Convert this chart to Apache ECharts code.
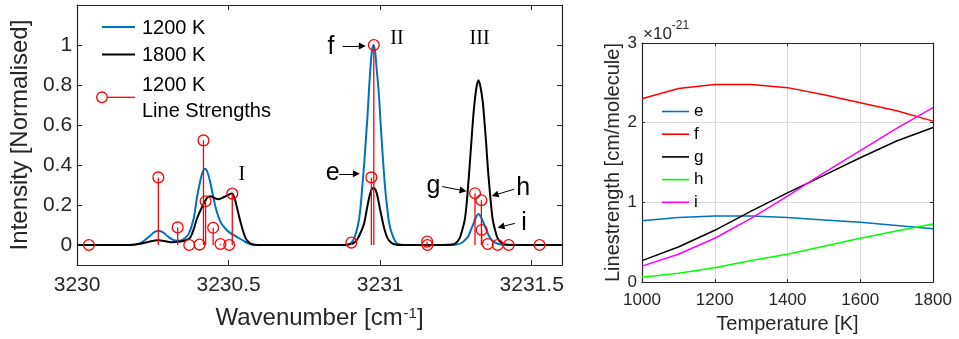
<!DOCTYPE html>
<html>
<head>
<meta charset="utf-8">
<script src="https://cdn.jsdelivr.net/npm/echarts@6/dist/echarts.min.js"></script>
<style>
  html, body { margin: 0; padding: 0; background: #ffffff; }
  #chart { width: 959px; height: 339px; }
</style>
</head>
<body>
<div id="chart"></div>
<script>
// ---- Spectra (normalised intensity vs wavenumber, cm^-1) ----
const spectrum1200 = [
  [3230.000, 0], [3230.150, 0], [3230.190, 0.003], [3230.215, 0.015], [3230.240, 0.045],
  [3230.255, 0.064], [3230.269, 0.071], [3230.285, 0.062], [3230.300, 0.042], [3230.315, 0.027],
  [3230.330, 0.021], [3230.345, 0.024], [3230.358, 0.038], [3230.369, 0.058], [3230.378, 0.095],
  [3230.386, 0.141], [3230.396, 0.242], [3230.405, 0.310], [3230.413, 0.360], [3230.4216, 0.381],
  [3230.430, 0.365], [3230.440, 0.309], [3230.4565, 0.191], [3230.473, 0.116], [3230.494, 0.074],
  [3230.510, 0.056], [3230.527, 0.041], [3230.555, 0.016], [3230.570, 0.005], [3230.590, 0],
  [3230.880, 0], [3230.895, 0.004], [3230.905, 0.012], [3230.914, 0.033], [3230.922, 0.070],
  [3230.930, 0.125], [3230.936, 0.200], [3230.941, 0.292], [3230.947, 0.400], [3230.952, 0.510],
  [3230.958, 0.640], [3230.963, 0.770], [3230.968, 0.890], [3230.973, 0.970], [3230.978, 1.000],
  [3230.983, 0.970], [3230.988, 0.890], [3230.996, 0.750], [3231.001, 0.620], [3231.0065, 0.490],
  [3231.012, 0.370], [3231.017, 0.275], [3231.023, 0.190], [3231.028, 0.125], [3231.036, 0.070],
  [3231.045, 0.033], [3231.053, 0.012], [3231.061, 0.004], [3231.075, 0],
  [3231.240, 0], [3231.255, 0.003], [3231.268, 0.010], [3231.280, 0.025], [3231.290, 0.041],
  [3231.298, 0.070], [3231.306, 0.099], [3231.315, 0.135], [3231.3245, 0.155], [3231.334, 0.135],
  [3231.344, 0.099], [3231.352, 0.070], [3231.3605, 0.041], [3231.370, 0.022], [3231.382, 0.010],
  [3231.395, 0.003], [3231.410, 0], [3231.600, 0]
];

const spectrum1800 = [
  [3230.000, 0], [3230.170, 0], [3230.210, 0.006], [3230.240, 0.018], [3230.269, 0.024],
  [3230.295, 0.018], [3230.315, 0.014], [3230.335, 0.016], [3230.355, 0.022], [3230.372, 0.035],
  [3230.385, 0.080], [3230.395, 0.130], [3230.4127, 0.191], [3230.430, 0.238], [3230.440, 0.244],
  [3230.453, 0.235], [3230.467, 0.229], [3230.485, 0.240], [3230.500, 0.252], [3230.511, 0.258],
  [3230.520, 0.232], [3230.527, 0.191], [3230.535, 0.140], [3230.5435, 0.091], [3230.552, 0.050],
  [3230.560, 0.024], [3230.575, 0.005], [3230.600, 0],
  [3230.880, 0], [3230.900, 0.003], [3230.914, 0.012], [3230.925, 0.030], [3230.935, 0.060],
  [3230.947, 0.108], [3230.9575, 0.191], [3230.965, 0.245], [3230.971, 0.275], [3230.978, 0.286],
  [3230.985, 0.275], [3230.991, 0.245], [3230.998, 0.191], [3231.005, 0.140], [3231.012, 0.091],
  [3231.020, 0.050], [3231.028, 0.025], [3231.040, 0.008], [3231.055, 0.001], [3231.070, 0],
  [3231.200, 0], [3231.235, 0.002], [3231.250, 0.010], [3231.262, 0.033], [3231.270, 0.070],
  [3231.279, 0.125], [3231.285, 0.200], [3231.290, 0.292], [3231.295, 0.390], [3231.3007, 0.510],
  [3231.306, 0.620], [3231.3114, 0.711], [3231.318, 0.790], [3231.3245, 0.824], [3231.331, 0.790],
  [3231.3389, 0.711], [3231.344, 0.620], [3231.3497, 0.510], [3231.355, 0.390], [3231.3605, 0.292],
  [3231.366, 0.200], [3231.3716, 0.125], [3231.380, 0.070], [3231.388, 0.033], [3231.400, 0.010],
  [3231.415, 0.002], [3231.450, 0], [3231.600, 0]
];

// ---- Individual line positions and 1200 K line strengths (normalised) ----
const lineWavenumbers = [
  3230.039, 3230.268, 3230.332, 3230.370, 3230.404, 3230.417, 3230.424, 3230.449,
  3230.473, 3230.502, 3230.512, 3230.905, 3230.971, 3230.979, 3231.155, 3231.156,
  3231.313, 3231.334, 3231.335, 3231.355, 3231.388, 3231.424, 3231.526
];
const lineStrengths1200 = [
  0, 0.338, 0.088, 0, 0.002, 0.523, 0.219, 0.086,
  0.005, 0, 0.257, 0.012, 0.338, 1.0, 0.017, 0,
  0.259, 0.224, 0.075, 0.005, 0, 0, 0
];

// ---- Linestrength vs temperature (units of 1e-21 cm/molecule) ----
const temperatures = [1000, 1100, 1200, 1300, 1400, 1500, 1600, 1700, 1800];
const strengthE = [0.77, 0.81, 0.83, 0.83, 0.81, 0.78, 0.75, 0.71, 0.67];
const strengthF = [2.30, 2.43, 2.48, 2.48, 2.44, 2.35, 2.25, 2.15, 2.02];
const strengthG = [0.27, 0.44, 0.65, 0.89, 1.12, 1.34, 1.56, 1.77, 1.94];
const strengthH = [0.06, 0.11, 0.18, 0.27, 0.35, 0.45, 0.55, 0.64, 0.73];
const strengthI = [0.20, 0.35, 0.55, 0.80, 1.08, 1.37, 1.65, 1.93, 2.19];

// ---- Tick positions ----
const wavenumberTicks = [3230, 3230.5, 3231, 3231.5];
const intensityTicks = [0, 0.2, 0.4, 0.6, 0.8, 1];
const temperatureTicks = [1000, 1200, 1400, 1600, 1800];
const linestrengthTicks = [0, 1, 2, 3];

// ---- Peak labels and arrows (data coordinates of the spectrum panel) ----
const groupLabels = [
  { text: 'I', x: 3230.5435, y: 0.35 },
  { text: 'II', x: 3231.0556, y: 1.03 },
  { text: 'III', x: 3231.328, y: 1.03 }
];
const lineLabels = [
  { text: 'f', x: 3230.8376, y: 0.987 },
  { text: 'e', x: 3230.843, y: 0.359 },
  { text: 'g', x: 3231.1755, y: 0.292 },
  { text: 'h', x: 3231.4716, y: 0.284 },
  { text: 'i', x: 3231.475, y: 0.108 }
];
const lineArrows = [
  [[3230.8758, 0.995], [3230.9412, 0.995]],
  [[3230.865, 0.356], [3230.9216, 0.356]],
  [[3231.2049, 0.292], [3231.2735, 0.272]],
  [[3231.4422, 0.279], [3231.379, 0.250]],
  [[3231.4444, 0.108], [3231.3987, 0.091]]
];

const AX = '#262626';
const SANS = 'Liberation Sans';
const SERIF = 'Liberation Serif';

function boxAxis(extra) {
  return Object.assign({
    type: 'value',
    axisLine: { show: true, onZero: false, lineStyle: { color: AX, width: 1.2 } },
    splitLine: { show: false }
  }, extra);
}

function strengthSeries(name, values, color) {
  return {
    name: name, type: 'line', xAxisIndex: 2, yAxisIndex: 2,
    symbol: 'none', showSymbol: false,
    data: temperatures.map((t, i) => [t, values[i]]),
    lineStyle: { color: color, width: 1.5 }, itemStyle: { color: color }
  };
}

const chart = echarts.init(document.getElementById('chart'), null, { renderer: 'canvas' });

const option = {
  animation: false,
  backgroundColor: '#ffffff',
  textStyle: { fontFamily: SANS },
  grid: [
    { left: 72, top: 5, width: 490, height: 260 },
    { left: 642, top: 43, width: 291, height: 240 }
  ],
  xAxis: [
    boxAxis({
      gridIndex: 0, min: 3230, max: 3231.6, position: 'bottom',
      axisTick: { show: true, inside: true, length: 5, customValues: wavenumberTicks, lineStyle: { color: AX } },
      axisLabel: { customValues: wavenumberTicks, color: AX, fontSize: 21, margin: 10, formatter: v => String(v) },
      name: '{n|Wavenumber [cm}{s|-1}{n|]}',
      nameLocation: 'middle', nameGap: 41,
      nameTextStyle: {
        rich: {
          n: { fontSize: 24, color: AX, fontFamily: SANS, verticalAlign: 'bottom' },
          s: { fontSize: 15, color: AX, fontFamily: SANS, verticalAlign: 'top', padding: [0, 0, 0, 1] }
        }
      }
    }),
    boxAxis({
      gridIndex: 0, min: 3230, max: 3231.6, position: 'top',
      axisTick: { show: true, inside: true, length: 5, customValues: wavenumberTicks, lineStyle: { color: AX } },
      axisLabel: { show: false }
    }),
    boxAxis({
      gridIndex: 1, min: 1000, max: 1800, interval: 200, position: 'bottom',
      axisTick: { show: true, inside: true, length: 3, customValues: temperatureTicks, lineStyle: { color: AX } },
      axisLabel: { customValues: temperatureTicks, color: AX, fontSize: 17, margin: 10, formatter: v => String(v) },
      splitLine: { show: true, lineStyle: { color: '#d9d9d9', width: 1 } },
      name: 'Temperature [K]', nameLocation: 'middle', nameGap: 29,
      nameTextStyle: { fontSize: 20, color: AX }
    }),
    boxAxis({
      gridIndex: 1, min: 1000, max: 1800, interval: 200, position: 'top',
      axisTick: { show: true, inside: true, length: 3, customValues: temperatureTicks, lineStyle: { color: AX } },
      axisLabel: { show: false }
    })
  ],
  yAxis: [
    boxAxis({
      gridIndex: 0, min: -0.1, max: 1.2, position: 'left',
      axisTick: { show: true, inside: true, length: 5, customValues: intensityTicks, lineStyle: { color: AX } },
      axisLabel: { customValues: intensityTicks, color: AX, fontSize: 21, margin: 5, formatter: v => String(v) },
      name: 'Intensity [Normalised]', nameLocation: 'middle', nameGap: 40,
      nameTextStyle: { fontSize: 24, color: AX }
    }),
    boxAxis({
      gridIndex: 0, min: -0.1, max: 1.2, position: 'right',
      axisTick: { show: true, inside: true, length: 5, customValues: intensityTicks, lineStyle: { color: AX } },
      axisLabel: { show: false }
    }),
    boxAxis({
      gridIndex: 1, min: 0, max: 3, interval: 1, position: 'left',
      axisTick: { show: true, inside: true, length: 3, customValues: linestrengthTicks, lineStyle: { color: AX } },
      axisLabel: { customValues: linestrengthTicks, color: AX, fontSize: 17, margin: 5, formatter: v => String(v) },
      splitLine: { show: true, lineStyle: { color: '#d9d9d9', width: 1 } },
      name: 'Linestrength [cm/molecule]', nameLocation: 'middle', nameGap: 10,
      nameTextStyle: { fontSize: 20, color: AX }
    }),
    boxAxis({
      gridIndex: 1, min: 0, max: 3, interval: 1, position: 'right',
      axisTick: { show: true, inside: true, length: 3, customValues: linestrengthTicks, lineStyle: { color: AX } },
      axisLabel: { show: false }
    })
  ],
  legend: {
    data: ['e', 'f', 'g', 'h', 'i'],
    icon: 'rect',
    orient: 'vertical', left: 662, top: 103, padding: 0,
    itemWidth: 27, itemHeight: 1.6, itemGap: 5.7,
    textStyle: { fontSize: 17, color: '#000', fontFamily: SANS },
    inactiveColor: '#ccc'
  },
  series: [
    {
      name: '1200 K', type: 'line', xAxisIndex: 0, yAxisIndex: 0,
      data: spectrum1200, showSymbol: false, smooth: 0.3,
      lineStyle: { color: '#0072BD', width: 2 }, itemStyle: { color: '#0072BD' }, z: 2
    },
    {
      name: '1800 K', type: 'line', xAxisIndex: 0, yAxisIndex: 0,
      data: spectrum1800, showSymbol: false, smooth: 0.3,
      lineStyle: { color: '#000000', width: 2 }, itemStyle: { color: '#000000' }, z: 3,
      markLine: {
        silent: true, animation: false,
        symbol: ['none', 'triangle'], symbolSize: [7, 7],
        lineStyle: { color: '#000', width: 1, type: 'solid' },
        label: { show: false },
        data: lineArrows.map(a => [{ coord: a[0] }, { coord: a[1] }])
      }
    },
    {
      name: '1200 K Line Strengths', type: 'custom', xAxisIndex: 0, yAxisIndex: 0,
      data: lineWavenumbers.map((w, i) => [w, lineStrengths1200[i]]),
      encode: { x: 0, y: 1 }, z: 4,
      renderItem: function (params, api) {
        const base = api.coord([api.value(0), 0]);
        const top = api.coord([api.value(0), api.value(1)]);
        return {
          type: 'group',
          children: [
            { type: 'line', shape: { x1: base[0], y1: base[1], x2: top[0], y2: top[1] },
              style: { stroke: '#ff0000', lineWidth: 1.3 } },
            { type: 'circle', shape: { cx: top[0], cy: top[1], r: 5.4 },
              style: { fill: 'none', stroke: '#ff0000', lineWidth: 1.3 } }
          ]
        };
      }
    },
    strengthSeries('e', strengthE, '#0072BD'),
    strengthSeries('f', strengthF, '#ff0000'),
    strengthSeries('g', strengthG, '#000000'),
    strengthSeries('h', strengthH, '#00ff00'),
    strengthSeries('i', strengthI, '#ff00ff')
  ]
};

chart.setOption(option);

// Legend of the spectrum panel, peak-group labels, line labels and exponent note
const toPx = p => chart.convertToPixel({ xAxisIndex: 0, yAxisIndex: 0 }, p);
const graphics = [
  { type: 'line', shape: { x1: 102, y1: 27, x2: 135, y2: 27 }, style: { stroke: '#0072BD', lineWidth: 2 } },
  { type: 'line', shape: { x1: 102, y1: 54.5, x2: 135, y2: 54.5 }, style: { stroke: '#000', lineWidth: 2 } },
  { type: 'circle', shape: { cx: 102, cy: 97.3, r: 5.3 }, style: { fill: 'none', stroke: '#ff0000', lineWidth: 1.3 } },
  { type: 'line', shape: { x1: 107.3, y1: 97.3, x2: 135, y2: 97.3 }, style: { stroke: '#ff0000', lineWidth: 1.3 } },
  { type: 'text', x: 142, y: 28, style: { text: '1200 K', fontSize: 20, fontFamily: SANS, fill: '#000', verticalAlign: 'middle' } },
  { type: 'text', x: 142, y: 55, style: { text: '1800 K', fontSize: 20, fontFamily: SANS, fill: '#000', verticalAlign: 'middle' } },
  { type: 'text', x: 142, y: 85, style: { text: '1200 K', fontSize: 20, fontFamily: SANS, fill: '#000', verticalAlign: 'middle' } },
  { type: 'text', x: 142, y: 111, style: { text: 'Line Strengths', fontSize: 20, fontFamily: SANS, fill: '#000', verticalAlign: 'middle' } },
  {
    type: 'text', x: 643, y: 31,
    style: {
      text: '{m|×10}{s|-21}', verticalAlign: 'middle',
      rich: {
        m: { fontSize: 17, fontFamily: SANS, fill: AX, verticalAlign: 'bottom', padding: [6, 0, 0, 0] },
        s: { fontSize: 12, fontFamily: SANS, fill: AX, verticalAlign: 'top' }
      }
    }
  }
];
groupLabels.forEach(l => {
  const p = toPx([l.x, l.y]);
  graphics.push({ type: 'text', x: p[0], y: p[1],
    style: { text: l.text, fontSize: 20, fontFamily: SERIF, fill: '#000', align: 'center', verticalAlign: 'middle' } });
});
lineLabels.forEach(l => {
  const p = toPx([l.x, l.y]);
  graphics.push({ type: 'text', x: p[0], y: p[1],
    style: { text: l.text, fontSize: 25, fontFamily: SANS, fill: '#000', align: 'center', verticalAlign: 'middle' } });
});
chart.setOption({ graphic: graphics });
</script>
</body>
</html>
